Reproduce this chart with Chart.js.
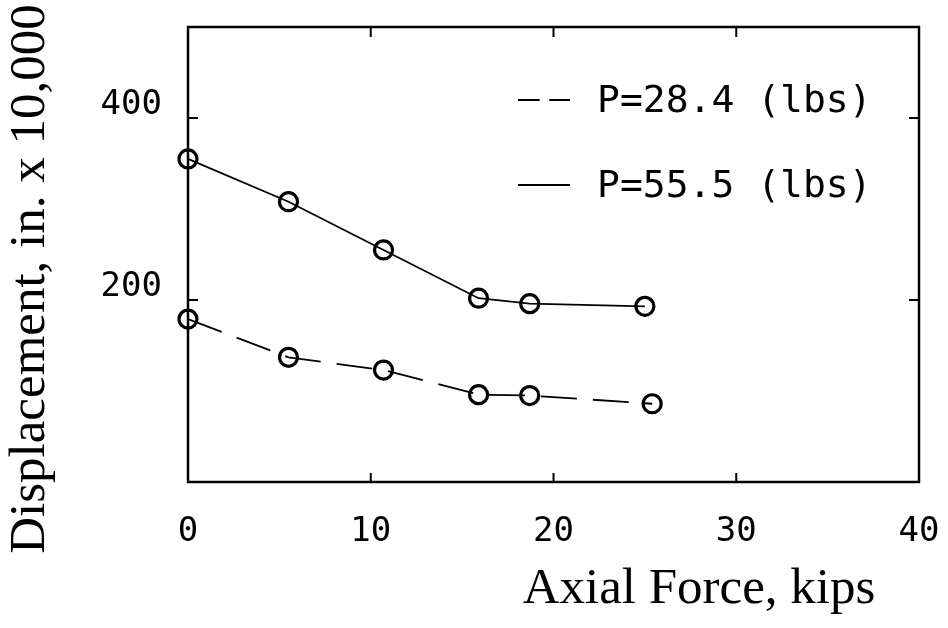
<!DOCTYPE html>
<html>
<head>
<meta charset="utf-8">
<script src="https://cdn.jsdelivr.net/npm/chart.js@4/dist/chart.umd.min.js"></script>
<style>
    html, body { margin: 0; padding: 0; background: #fff; }
    #wrap { width: 948px; height: 628px; }
</style>
</head>
<body>
<div id="wrap"><canvas id="chart"></canvas></div>
<script>
// series
const seriesLabels = ['P=28.4 (lbs)', 'P=55.5 (lbs)'];
const force284 = [0, 5.5, 10.7, 15.9, 18.7, 25.4];
const disp284 = [179, 137, 123, 96, 95, 86];
const force555 = [0, 5.5, 10.7, 15.9, 18.7, 25.0];
const disp555 = [355, 308, 255, 202, 196, 193];

// axes
const xTicks = [0, 10, 20, 30, 40];
const yTicks = [200, 400];
const xTitle = 'Axial Force, kips';
const yTitle = 'Displacement, in. x 10,000';

const tickFont = { family: 'DejaVu Sans Mono', size: 34 };

function toPoints(xs, ys) {
    return xs.map((x, i) => ({ x: x, y: ys[i] }));
}

// box, inward ticks, legend and axis titles
const framePlugin = {
    id: 'frame',
    afterDraw(chart) {
        const ctx = chart.ctx;
        const { left, right, top, bottom } = chart.chartArea;
        const xs = chart.scales.x;
        const ys = chart.scales.y;
        ctx.save();
        ctx.strokeStyle = '#000';
        ctx.lineWidth = 2.5;
        ctx.strokeRect(left, top, right - left, bottom - top);

        ctx.lineWidth = 2;
        ctx.beginPath();
        xTicks.slice(1, -1).forEach(v => {
            const px = xs.getPixelForValue(v);
            ctx.moveTo(px, bottom); ctx.lineTo(px, bottom - 9);
            ctx.moveTo(px, top); ctx.lineTo(px, top + 10);
        });
        yTicks.forEach(v => {
            const py = ys.getPixelForValue(v);
            ctx.moveTo(left, py); ctx.lineTo(left + 10, py);
            ctx.moveTo(right, py); ctx.lineTo(right - 10, py);
        });
        ctx.stroke();

        // legend (line samples only, no markers)
        ctx.font = '38px "DejaVu Sans Mono"';
        ctx.fillStyle = '#000';
        ctx.textBaseline = 'middle';
        ctx.textAlign = 'left';
        chart.data.datasets.forEach((ds, i) => {
            const y = top + 73 + i * 85;
            ctx.lineWidth = 2;
            ctx.setLineDash((ds.borderDash || []).map(d => d * 0.6));
            ctx.beginPath();
            ctx.moveTo(right - 401, y);
            ctx.lineTo(right - 349, y);
            ctx.stroke();
            ctx.setLineDash([]);
            ctx.fillText(ds.label, right - 322, y + 2);
        });

        // axis titles
        ctx.font = '51px "Liberation Serif"';
        ctx.textAlign = 'center';
        ctx.textBaseline = 'alphabetic';
        ctx.fillText(xTitle, 699, 603);
        ctx.translate(44, 279);
        ctx.rotate(-Math.PI / 2);
        ctx.fillText(yTitle, 0, 0);
        ctx.restore();
    }
};

new Chart(document.getElementById('chart').getContext('2d'), {
    type: 'line',
    data: {
        datasets: [
            {
                label: seriesLabels[0],
                data: toPoints(force284, disp284),
                borderColor: '#000',
                borderWidth: 1.8,
                borderDash: [36, 16],
                pointRadius: 9,
                pointBorderWidth: 3.2,
                pointBackgroundColor: 'rgba(0,0,0,0)',
                pointBorderColor: '#000',
                tension: 0,
                clip: false
            },
            {
                label: seriesLabels[1],
                data: toPoints(force555, disp555),
                borderColor: '#000',
                borderWidth: 1.8,
                pointRadius: 9,
                pointBorderWidth: 3.2,
                pointBackgroundColor: 'rgba(0,0,0,0)',
                pointBorderColor: '#000',
                tension: 0,
                clip: false
            }
        ]
    },
    options: {
        responsive: true,
        maintainAspectRatio: false,
        animation: false,
        layout: { padding: { left: 0, top: 27, right: 29, bottom: 0 } },
        plugins: {
            legend: { display: false },
            tooltip: { enabled: false }
        },
        scales: {
            x: {
                type: 'linear',
                min: 0,
                max: 40,
                afterBuildTicks: scale => { scale.ticks = xTicks.map(v => ({ value: v })); },
                afterFit: scale => {
                    scale.height = 146;
                    scale.paddingLeft = 0;
                    scale.paddingRight = 0;
                },
                grid: { display: false, drawTicks: false },
                border: { display: false },
                ticks: { color: '#000', font: tickFont, padding: 30, maxRotation: 0 }
            },
            y: {
                type: 'linear',
                min: 0,
                max: 500,
                afterBuildTicks: scale => { scale.ticks = yTicks.map(v => ({ value: v })); },
                afterFit: scale => {
                    scale.width = 188;
                    scale.paddingTop = 0;
                    scale.paddingBottom = 0;
                },
                grid: { display: false, drawTicks: false },
                border: { display: false },
                ticks: { color: '#000', font: tickFont, padding: 26, labelOffset: -13 }
            }
        }
    },
    plugins: [framePlugin]
});
</script>
</body>
</html>
